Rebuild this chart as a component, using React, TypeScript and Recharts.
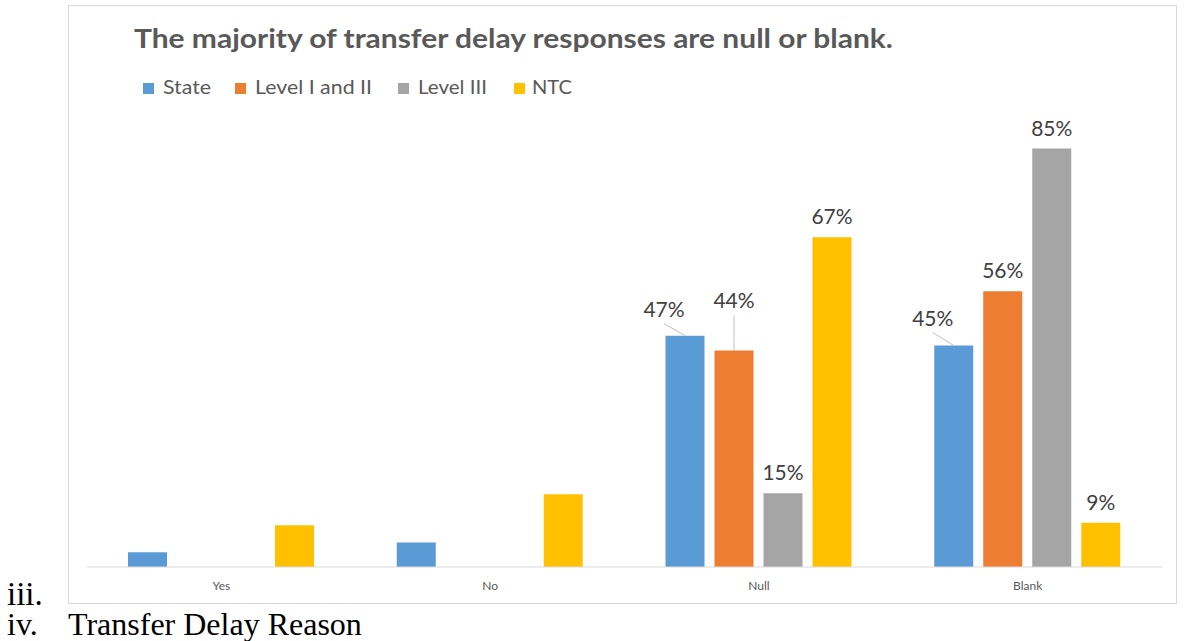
import React from 'react';
import { BarChart, Bar, XAxis, YAxis, LabelList } from 'recharts';

const CATEGORIES = ['Yes', 'No', 'Null', 'Blank'];
const STATE = [3, 5, 47, 45];
const LEVEL_I_II = [0, 0, 44, 56];
const LEVEL_III = [0, 0, 15, 85];
const NTC = [8.5, 14.8, 67, 9];
// only these categories carry data labels in the original
const LABELLED = ['Null', 'Blank'];

const SERIES = [
  { key: 'state', name: 'State', color: '#5B9BD5', values: STATE },
  { key: 'level12', name: 'Level I and II', color: '#ED7D31', values: LEVEL_I_II },
  { key: 'level3', name: 'Level III', color: '#A5A5A5', values: LEVEL_III },
  { key: 'ntc', name: 'NTC', color: '#FFC000', values: NTC },
];

const data = CATEGORIES.map((category, i) => {
  const row: Record<string, any> = { category };
  SERIES.forEach((s) => {
    row[s.key] = s.values[i];
  });
  return row;
});

// labels that were dragged off the bar in Excel (with leader lines)
const LABEL_MOVES: Record<string, { dx: number; dy: number }> = {
  'state-Null': { dx: -21, dy: -19 },
  'level12-Null': { dx: 0, dy: -42 },
  'state-Blank': { dx: -21, dy: -20 },
};

const LEGEND_X = [143, 235, 398, 514];
const LEGEND_TEXT_W = [48, 117, 69, 40];

const FONT = 'Lato, "Open Sans", sans-serif';
const SERIF = '"Liberation Serif", "Times New Roman", serif';

// value is the whole row (see valueAccessor), zero bars may be skipped so index is unreliable
const makeLabel = (seriesKey: string) => (props: any) => {
  const vb = props.viewBox || props;
  const x = Number(props.x ?? vb.x);
  const y = Number(props.y ?? vb.y);
  const width = Number(props.width ?? vb.width);
  const row = props.value;
  if (!row || typeof row !== 'object') return null;
  const cat = row.category;
  const value = row[seriesKey];
  if (!LABELLED.includes(cat) || !value) return null;
  const cx = x + width / 2;
  const move = LABEL_MOVES[`${seriesKey}-${cat}`];
  const lx = cx + (move ? move.dx : 0);
  const base = y + (move ? move.dy : -13);
  return (
    <g>
      {move && <line x1={lx} y1={base + 7} x2={cx} y2={y} stroke="#bfbfbf" strokeWidth={1} />}
      <text x={lx} y={base} textAnchor="middle" fill="#404040" fontSize={21} fontFamily={FONT}>
        {`${Math.round(value)}%`}
      </text>
    </g>
  );
};

export default function App() {
  return (
    <div style={{ position: 'absolute', left: 0, top: 0, width: 1184, height: 641, background: '#fff' }}>
      <div style={{ position: 'absolute', left: 68, top: 5 }}>
        <BarChart
          width={1109}
          height={599}
          data={data}
          margin={{ top: 119, right: 15, bottom: 0, left: 19 }}
          barSize={39}
          barGap={10}
        >
          <XAxis
            dataKey="category"
            height={37}
            axisLine={{ stroke: '#d9d9d9' }}
            tickLine={false}
            tickSize={0}
            tickMargin={14}
            tick={{ fill: '#595959', fontSize: 12, fontFamily: FONT }}
          />
          <YAxis hide domain={[0, 90]} />
          {SERIES.map((s) => (
            <Bar key={s.key} dataKey={s.key} name={s.name} fill={s.color} isAnimationActive={false}>
              <LabelList valueAccessor={(entry: any) => entry.payload} content={makeLabel(s.key)} />
            </Bar>
          ))}
        </BarChart>
      </div>
      <svg
        width={1184}
        height={641}
        style={{ position: 'absolute', left: 0, top: 0, pointerEvents: 'none' }}
      >
        <rect x={68.5} y={5.5} width={1108} height={598} fill="none" stroke="#d9d9d9" />
        <text
          x={134}
          y={48}
          fontFamily={FONT}
          fontWeight={700}
          fontSize={27}
          fill="#595959"
          textLength={759}
          lengthAdjust="spacingAndGlyphs"
        >
          The majority of transfer delay responses are null or blank.
        </text>
        {SERIES.map((s, i) => (
          <g key={s.key}>
            <rect x={LEGEND_X[i]} y={83} width={11} height={11} fill={s.color} />
            <text
              x={LEGEND_X[i] + (i === 3 ? 18 : 20)}
              y={94}
              fontFamily={FONT}
              fontSize={20}
              fill="#595959"
              textLength={LEGEND_TEXT_W[i]}
              lengthAdjust="spacingAndGlyphs"
            >
              {s.name}
            </text>
          </g>
        ))}
        <text x={7} y={605} fontFamily={SERIF} fontSize={33} fill="#000">
          iii.
        </text>
        <text x={7} y={635} fontFamily={SERIF} fontSize={32} fill="#000">
          iv.
        </text>
        <text x={68} y={635} fontFamily={SERIF} fontSize={32} fill="#000">
          Transfer Delay Reason
        </text>
      </svg>
    </div>
  );
}
